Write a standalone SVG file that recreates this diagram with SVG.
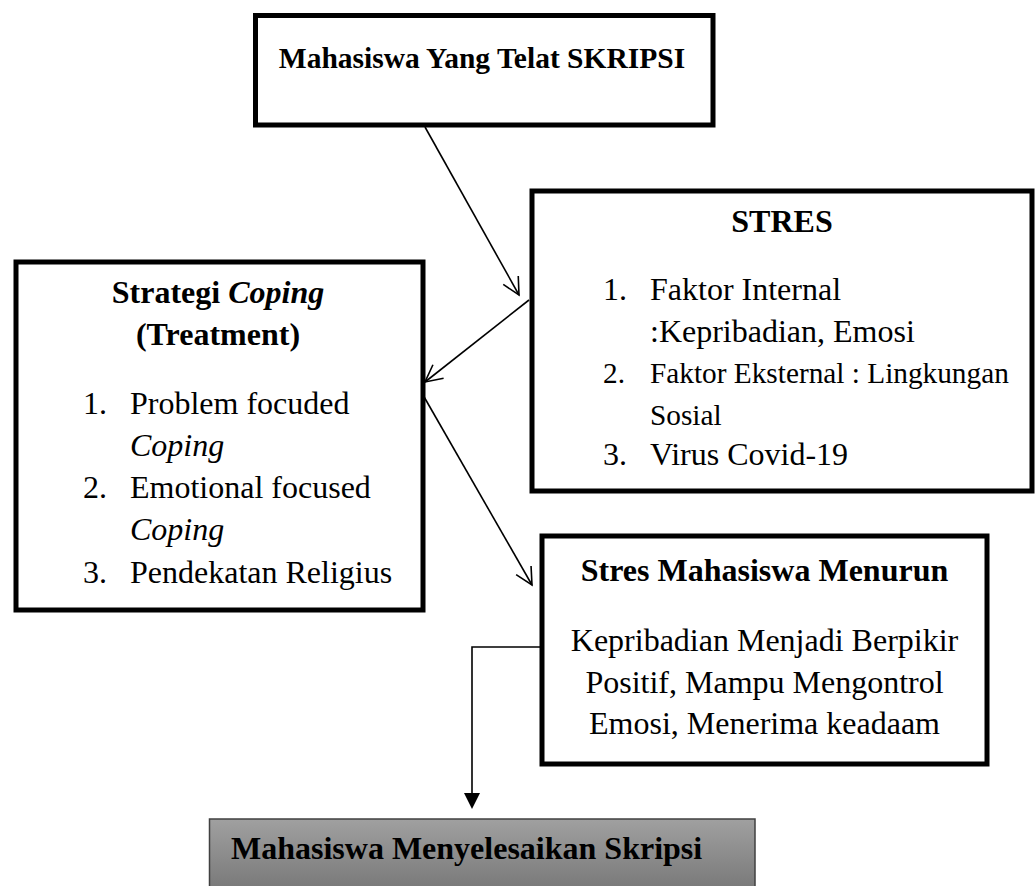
<svg xmlns="http://www.w3.org/2000/svg" width="1035" height="886" viewBox="0 0 1035 886">
<style>
.box{fill:#fff;stroke:#000;stroke-width:5}
.t{font-family:"Liberation Serif","Times New Roman",serif;font-size:32px;fill:#000}
.b{font-weight:bold}
.c{text-anchor:middle}
.s{font-size:29.3px}
.ln{fill:none;stroke:#000;stroke-width:1.6}
</style>
<defs>
<marker id="open" viewBox="0 0 22 22" refX="20" refY="11" markerWidth="22" markerHeight="22" markerUnits="userSpaceOnUse" orient="auto">
<path d="M3.1,2.4 L20,11 L3.1,19.6" fill="none" stroke="#000" stroke-width="1.6"/>
</marker>
<linearGradient id="gray" x1="0" y1="0" x2="0" y2="1">
<stop offset="0" stop-color="#a0a0a0"/>
<stop offset="1" stop-color="#6e6e6e"/>
</linearGradient>
</defs>
<rect width="1035" height="886" fill="#fff"/>
<g id="connectors">
<line class="ln" x1="425" y1="127" x2="519" y2="295" marker-end="url(#open)"/>
<line class="ln" x1="529" y1="300" x2="425" y2="382" marker-end="url(#open)"/>
<line class="ln" x1="423" y1="395" x2="532" y2="585" marker-end="url(#open)"/>
<polyline class="ln" points="540,647 472,647 472,796"/>
<polygon points="464,793 480,793 472,809" fill="#000"/>
</g>
<g id="node-top">
<rect class="box" x="255.5" y="15.5" width="457.5" height="109.5"/>
<text class="t b c" x="482" y="68" style="font-size:29.5px">Mahasiswa Yang Telat SKRIPSI</text>
</g>
<g id="node-stres">
<rect class="box" x="532" y="191" width="500" height="300"/>
<text class="t b c" x="782" y="232">STRES</text>
<text class="t" x="603" y="300">1.</text>
<text class="t" x="650" y="300">Faktor Internal</text>
<text class="t" x="650" y="342">:Kepribadian, Emosi</text>
<text class="t s" x="603" y="383">2.</text>
<text class="t s" x="650" y="383">Faktor Eksternal : Lingkungan</text>
<text class="t s" x="650" y="425">Sosial</text>
<text class="t" x="603" y="465">3.</text>
<text class="t" x="650" y="465">Virus Covid-19</text>
</g>
<g id="node-coping">
<rect class="box" x="16" y="262" width="407" height="348"/>
<text class="t b c" x="218" y="303">Strategi <tspan font-style="italic">Coping</tspan></text>
<text class="t b c" x="218" y="345">(Treatment)</text>
<text class="t" x="83" y="414">1.</text>
<text class="t" x="130" y="414">Problem focuded</text>
<text class="t" x="130" y="456" font-style="italic">Coping</text>
<text class="t" x="83" y="498">2.</text>
<text class="t" x="130" y="498">Emotional focused</text>
<text class="t" x="130" y="540" font-style="italic">Coping</text>
<text class="t" x="83" y="583">3.</text>
<text class="t" x="130" y="583">Pendekatan Religius</text>
</g>
<g id="node-menurun">
<rect class="box" x="542" y="536" width="445" height="228"/>
<text class="t b c" x="764.5" y="581">Stres Mahasiswa Menurun</text>
<text class="t c" x="764.5" y="651">Kepribadian Menjadi Berpikir</text>
<text class="t c" x="764.5" y="693">Positif, Mampu Mengontrol</text>
<text class="t c" x="764.5" y="734">Emosi, Menerima keadaam</text>
</g>
<g id="node-selesai">
<rect x="209.5" y="819" width="545.5" height="90" fill="url(#gray)" stroke="#404040" stroke-width="1.5"/>
<text class="t b" x="231" y="859">Mahasiswa Menyelesaikan Skripsi</text>
</g>
</svg>
